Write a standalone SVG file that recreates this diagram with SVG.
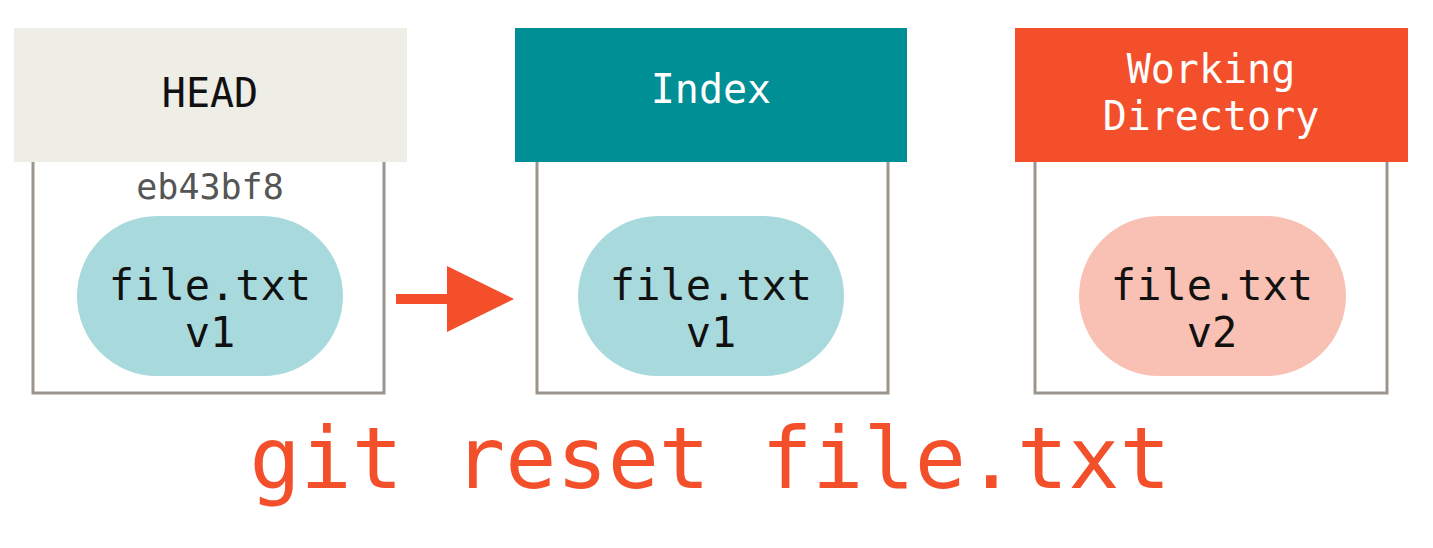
<svg xmlns="http://www.w3.org/2000/svg" width="1433" height="548" viewBox="0 0 1433 548">
<style>
.box{fill:#fff;stroke:#9b958e;stroke-width:3}
.mono{font-family:"DejaVu Sans Mono","Liberation Mono",monospace;text-anchor:middle}
.hdr{font-size:40px}
.file{font-size:42px;fill:#111}
</style>
<rect width="1433" height="548" fill="#fff"/>
<g id="head">
<rect class="box" x="33" y="150" width="351" height="243"/>
<rect x="14" y="28" width="393" height="134" fill="#EEEEE6"/>
<text class="mono hdr" x="210" y="107" fill="#111" font-size="42">HEAD</text>
<text class="mono" x="210" y="199" font-size="35" fill="#555">eb43bf8</text>
<rect x="77" y="216" width="266" height="160" rx="80" fill="#A8D9DC"/>
<text class="mono file" x="210" y="300">file.txt</text>
<text class="mono file" x="210" y="347">v1</text>
</g>
<g id="index">
<rect class="box" x="537" y="150" width="351" height="243"/>
<rect x="515" y="28" width="392" height="134" fill="#008F95"/>
<text class="mono hdr" x="711" y="103" fill="#fff">Index</text>
<rect x="578" y="216" width="266" height="160" rx="80" fill="#A8D9DC"/>
<text class="mono file" x="711" y="300">file.txt</text>
<text class="mono file" x="711" y="347">v1</text>
</g>
<g id="working">
<rect class="box" x="1035" y="150" width="352" height="243"/>
<rect x="1015" y="28" width="393" height="134" fill="#F34F2A"/>
<text class="mono hdr" x="1211" y="83" fill="#fff">Working</text>
<text class="mono hdr" x="1211" y="130" fill="#fff">Directory</text>
<rect x="1079" y="216" width="267" height="160" rx="80" fill="#F9C1B4"/>
<text class="mono file" x="1212" y="300">file.txt</text>
<text class="mono file" x="1212" y="347">v2</text>
</g>
<g id="connectors">
<line x1="396" y1="299" x2="452" y2="299" stroke="#F34F2A" stroke-width="10"/>
<polygon points="447,266 514,299 447,332" fill="#F34F2A"/>
</g>
<text class="mono" x="710" y="488" font-size="85" fill="#F34F2A">git reset file.txt</text>
</svg>
